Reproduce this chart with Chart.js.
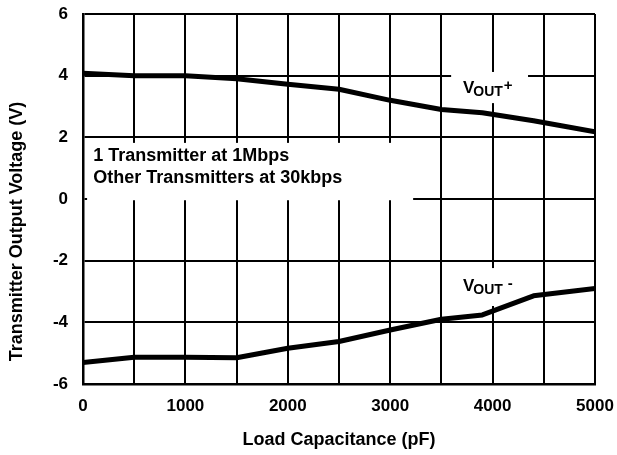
<!DOCTYPE html>
<html>
<head>
<meta charset="utf-8">
<script src="https://cdn.jsdelivr.net/npm/chart.js@4"></script>
<style>
  html, body { margin: 0; padding: 0; background: #fff; }
  #wrap { width: 617px; height: 455px; position: relative; }
</style>
</head>
<body>
<div id="wrap"><canvas id="c"></canvas></div>
<script>
// ---- data ----
const capacitance = [0, 500, 1000, 1500, 2000, 2500, 3000, 3500, 3900, 4400, 5000];
const voutPlus   = [4.08, 4.0, 4.0, 3.9, 3.72, 3.56, 3.2, 2.9, 2.8, 2.54, 2.18];
const voutMinus  = [-5.3, -5.13, -5.13, -5.15, -4.84, -4.62, -4.25, -3.9, -3.76, -3.14, -2.9];
const xTickStep = 500;
const xLabelStep = 1000;
const yTickStep = 2;
const noteLines = ['1 Transmitter at 1Mbps', 'Other Transmitters at 30kbps'];
const xTitle = 'Load Capacitance (pF)';
const yTitle = 'Transmitter Output Voltage (V)';

const FONT = "'Liberation Sans', Arial, Helvetica, sans-serif";

const toPts = ys => capacitance.map((x, i) => ({ x: x, y: ys[i] }));

const annotationPlugin = {
  id: 'notes',
  beforeDatasetsDraw(chart) {
    const { ctx, scales: { x, y } } = chart;
    ctx.save();
    // white boxes behind the texts (they hide the grid lines)
    ctx.fillStyle = '#fff';
    const box = (x0, x1, y0, y1) => {
      const px0 = x.getPixelForValue(x0), px1 = x.getPixelForValue(x1);
      const py0 = y.getPixelForValue(y1), py1 = y.getPixelForValue(y0);
      ctx.fillRect(px0, py0, px1 - px0, py1 - py0);
    };
    box(40, 3224, -0.04, 1.82);
    box(3595, 4346, 3.11, 4.12);
    box(3595, 4346, -3.47, -2.24);

    ctx.fillStyle = '#000';
    ctx.textBaseline = 'alphabetic';
    ctx.textAlign = 'left';
    ctx.font = 'bold 18px ' + FONT;
    ctx.fillText(noteLines[0], x.getPixelForValue(100), y.getPixelForValue(1.24));
    ctx.fillText(noteLines[1], x.getPixelForValue(100), y.getPixelForValue(0.51));

    const vout = (vx, vy, suffix) => {
      const px = x.getPixelForValue(vx), py = y.getPixelForValue(vy);
      ctx.font = 'bold 17px ' + FONT;
      ctx.fillText('V', px, py);
      const vw = ctx.measureText('V').width;
      ctx.font = 'bold 14px ' + FONT;
      ctx.fillText('OUT', px + vw - 1, py + 3);
      const ow = ctx.measureText('OUT').width;
      ctx.font = 'bold 15px ' + FONT;
      ctx.fillText(suffix, px + vw + ow + (suffix === '+' ? 0 : 4), py - 3);
    };
    vout(3710, 3.44, '+');
    vout(3710, -2.97, '-');
    ctx.restore();
  },
  afterDraw(chart) {
    // y-axis title, centred on the figure height as in the reference
    const { ctx } = chart;
    ctx.save();
    ctx.translate(17, chart.height / 2 + 4);
    ctx.rotate(-Math.PI / 2);
    ctx.fillStyle = '#000';
    ctx.font = 'bold 18px ' + FONT;
    ctx.textAlign = 'center';
    ctx.textBaseline = 'middle';
    ctx.fillText(yTitle, 0, 0);
    ctx.restore();
  }
};

new Chart(document.getElementById('c'), {
  type: 'line',
  data: {
    datasets: [
      { label: 'VOUT+', data: toPts(voutPlus) },
      { label: 'VOUT-', data: toPts(voutMinus) }
    ]
  },
  options: {
    responsive: true,
    maintainAspectRatio: false,
    animation: false,
    devicePixelRatio: 1,
    layout: { padding: { left: 0, right: 22, top: 14, bottom: 0 } },
    elements: {
      line: { borderColor: '#000', borderWidth: 5, tension: 0, borderCapStyle: 'butt', borderJoinStyle: 'round', fill: false },
      point: { radius: 0, hoverRadius: 0 }
    },
    plugins: { legend: { display: false }, tooltip: { enabled: false } },
    scales: {
      x: {
        type: 'linear',
        min: 0, max: 5000,
        afterFit(s) { s.height = 71; s.paddingLeft = 0; s.paddingRight = 0; },
        grid: { color: '#000', lineWidth: 2, drawTicks: false },
        border: { display: true, color: '#000', width: 2.5 },
        ticks: {
          stepSize: xTickStep, autoSkip: false, maxRotation: 0, padding: 12,
          color: '#000', font: { family: FONT, size: 17, weight: 'bold' },
          callback: v => (v % xLabelStep === 0 ? String(v) : '')
        },
        title: {
          display: true, text: xTitle, color: '#000',
          font: { family: FONT, size: 18, weight: 'bold' },
          padding: { top: 0, bottom: 4 }
        }
      },
      y: {
        type: 'linear',
        min: -6, max: 6,
        afterFit(s) { s.width = 83; s.paddingTop = 0; s.paddingBottom = 0; },
        grid: { color: '#000', lineWidth: 2, drawTicks: false },
        border: { display: true, color: '#000', width: 2.5 },
        ticks: {
          stepSize: yTickStep, padding: 15,
          color: '#000', font: { family: FONT, size: 17, weight: 'bold' }
        },
        title: { display: false }
      }
    }
  },
  plugins: [annotationPlugin]
});
</script>
</body>
</html>
